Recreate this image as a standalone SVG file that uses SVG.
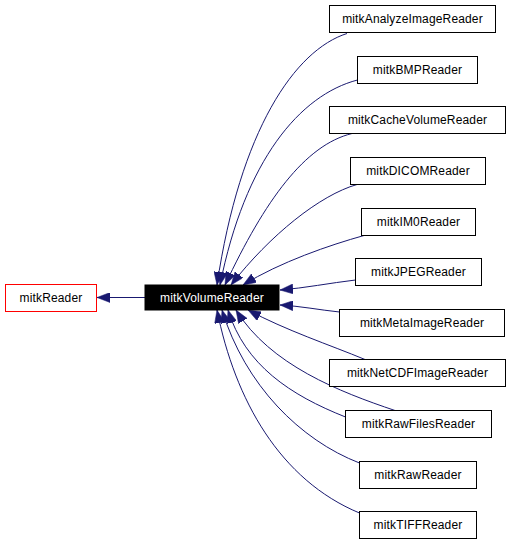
<svg xmlns="http://www.w3.org/2000/svg" width="512" height="544" viewBox="0 0 512 544">
<style>
.n rect{fill:#fff;stroke:#000;stroke-width:1}
.n text{font-family:"Liberation Sans",Arial,sans-serif;font-size:12px;text-anchor:middle;fill:#000;letter-spacing:0.15px}
#mitkVolumeReader rect{fill:#000;stroke:#000}
#mitkVolumeReader text{fill:#fff}
#mitkReader rect{stroke:#f00}
.e path{fill:none;stroke:#191970;stroke-width:1;marker-end:url(#ah)}
</style>
<defs>
<marker id="ah" markerWidth="13" markerHeight="10" refX="13" refY="5" orient="auto" markerUnits="userSpaceOnUse">
<path d="M0,0 L13,5 L0,10 z" fill="#191970" stroke="#191970" stroke-width="0.5"/>
</marker>
</defs>
<rect width="512" height="544" fill="#fff"/>
<g id="edges" class="e">
<path d="M145,297.5 L97,297.5"/>
<path d="M347,33.5 C295,50 240,130 217,285"/>
<path d="M357.5,80 C300,95 245,160 220,285"/>
<path d="M352,133.5 C305,145 265,200 225,285"/>
<path d="M357,184.5 C320,195 270,235 231,285"/>
<path d="M364,235.5 C330,245 280,262 243,285"/>
<path d="M355.5,280 C330,283 305,288 280,290"/>
<path d="M339.5,312 C320,310 300,306 280,305"/>
<path d="M365,359.5 C330,345 285,330 248,310"/>
<path d="M395,410.5 C340,392 270,365 236,310"/>
<path d="M345.5,417 C290,395 245,365 228,310"/>
<path d="M359.5,463 C300,440 245,385 222,310"/>
<path d="M359.5,513 C280,480 235,400 217,310"/>
</g>
<g id="mitkReader" class="n"><rect x="5.5" y="284.5" width="91" height="27"/><text x="51" y="302">mitkReader</text></g>
<g id="mitkVolumeReader" class="n"><rect x="145" y="285" width="134" height="25"/><text x="212" y="302">mitkVolumeReader</text></g>
<g id="mitkAnalyzeImageReader" class="n"><rect x="329.5" y="5.5" width="166" height="27"/><text x="412.5" y="23">mitkAnalyzeImageReader</text></g>
<g id="mitkBMPReader" class="n"><rect x="357.5" y="56.5" width="120" height="27"/><text x="417.5" y="74">mitkBMPReader</text></g>
<g id="mitkCacheVolumeReader" class="n"><rect x="329.5" y="106.5" width="176" height="27"/><text x="417.5" y="124">mitkCacheVolumeReader</text></g>
<g id="mitkDICOMReader" class="n"><rect x="350.5" y="157.5" width="135" height="27"/><text x="418" y="175">mitkDICOMReader</text></g>
<g id="mitkIM0Reader" class="n"><rect x="361.5" y="208.5" width="114" height="27"/><text x="418.5" y="226">mitkIM0Reader</text></g>
<g id="mitkJPEGReader" class="n"><rect x="355.5" y="258.5" width="126" height="27"/><text x="418.5" y="276">mitkJPEGReader</text></g>
<g id="mitkMetaImageReader" class="n"><rect x="339.5" y="309.5" width="165" height="27"/><text x="422" y="327">mitkMetaImageReader</text></g>
<g id="mitkNetCDFImageReader" class="n"><rect x="329.5" y="359.5" width="176" height="27"/><text x="417.5" y="377">mitkNetCDFImageReader</text></g>
<g id="mitkRawFilesReader" class="n"><rect x="345.5" y="410.5" width="146" height="27"/><text x="418.5" y="428">mitkRawFilesReader</text></g>
<g id="mitkRawReader" class="n"><rect x="359.5" y="461.5" width="117" height="27"/><text x="418" y="479">mitkRawReader</text></g>
<g id="mitkTIFFReader" class="n"><rect x="359.5" y="511.5" width="117" height="27"/><text x="418" y="529">mitkTIFFReader</text></g>
</svg>
